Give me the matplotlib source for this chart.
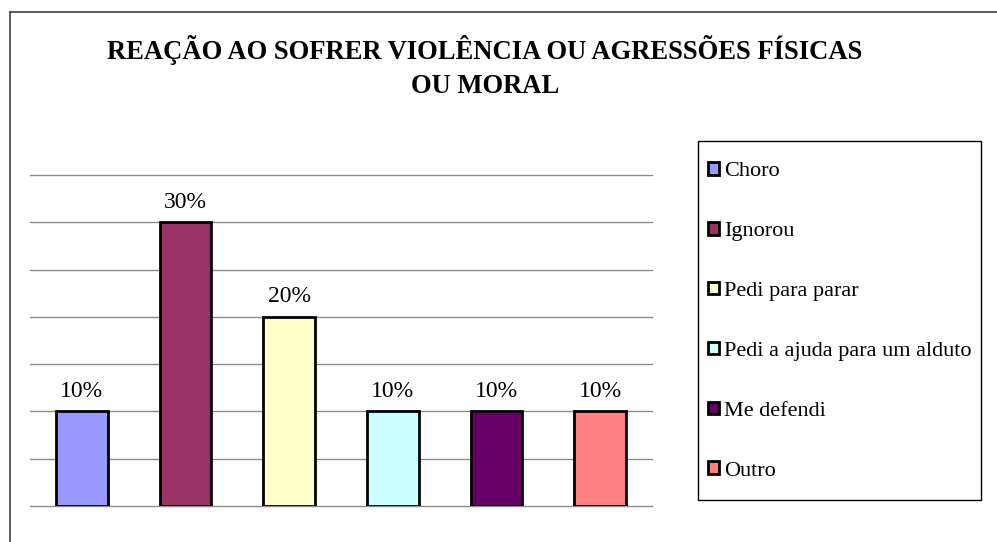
import matplotlib
matplotlib.use("Agg")
import matplotlib.pyplot as plt
from matplotlib.lines import Line2D
from matplotlib.patches import Patch, Rectangle

categories = ["Choro", "Ignorou", "Pedi para parar", "Pedi a ajuda para um alduto", "Me defendi", "Outro"]
values = [10, 30, 20, 10, 10, 10]
labels = ["10%", "30%", "20%", "10%", "10%", "10%"]
colors = ["#9999FF", "#993366", "#FFFFCC", "#CCFFFF", "#660066", "#FF8080"]
title = "REAÇÃO AO SOFRER VIOLÊNCIA OU AGRESSÕES FÍSICAS\nOU MORAL"

W, H = 997, 542
plt.rcParams['font.family'] = ['Liberation Serif', 'DejaVu Serif']
fig = plt.figure(figsize=(W / 100, H / 100), dpi=100)

def fx(px):
    return px / W

def fy(py):
    return 1 - py / H

ax = fig.add_axes([fx(30), fy(506), fx(652) - fx(30), fy(175) - fy(506)])
x = list(range(len(values)))
ax.bar(x, values, width=0.5, color=colors, edgecolor="black", linewidth=2, zorder=3)
ax.set_xlim(-0.5, len(values) - 0.5)
ax.set_ylim(0, 35)
ax.set_yticks(range(0, 36, 5))
ax.yaxis.grid(True, color="#8c8c8c", linewidth=1, clip_on=False)
ax.set_axisbelow(True)
for s in ax.spines.values():
    s.set_visible(False)
ax.tick_params(left=False, bottom=False, labelleft=False, labelbottom=False)
for xi, v, lab in zip(x, values, labels):
    ax.annotate(lab, (xi, v), xytext=(0, 7), textcoords="offset points",
                ha="center", va="bottom", fontsize=17)

fig.text(fx(485), fy(67), title, ha="center", va="center", fontsize=19.2,
         fontweight="bold", linespacing=1.45)

# legend frame drawn separately
fig.add_artist(Rectangle((fx(698), fy(500)), fx(981) - fx(698), fy(141) - fy(500),
                         transform=fig.transFigure, facecolor="white",
                         edgecolor="black", linewidth=1.0, zorder=1))

handles = [Patch(facecolor=c, edgecolor="black", linewidth=2.0) for c in colors]
leg = fig.legend(handles, categories, loc="upper left",
                 bbox_to_anchor=(fx(708), fy(162)),
                 fontsize=16, frameon=False, borderaxespad=0,
                 handlelength=0.5, handleheight=0.5, handletextpad=0.22,
                 labelspacing=1.83, borderpad=0)
leg.set_zorder(2)

fig.add_artist(Line2D([fx(10), fx(10)], [fy(12), 0], color="#404040", linewidth=1.2))
fig.add_artist(Line2D([fx(10), 1], [fy(12), fy(12)], color="#404040", linewidth=1.2))

fig.savefig("out.png", dpi=100)
